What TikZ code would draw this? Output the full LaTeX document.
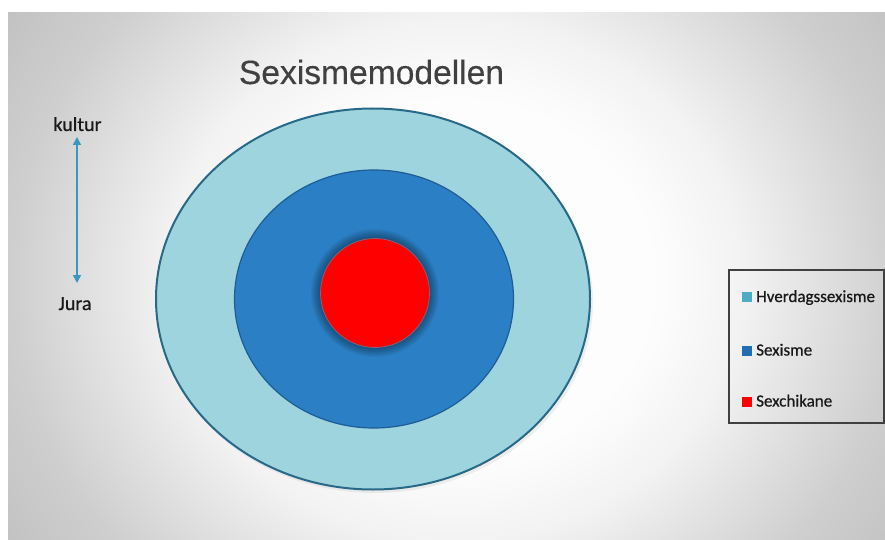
\documentclass[tikz,border=0pt]{standalone}
\usepackage{fontspec}
\setmainfont{Carlito}
\newfontfamily\labelfont[FakeBold=0.7]{Carlito}
\newfontfamily\titlefont[FakeBold=0.3]{Liberation Sans}
\usetikzlibrary{arrows.meta}
\definecolor{outerfill}{RGB}{158,212,222}
\definecolor{outerline}{RGB}{40,105,135}
\definecolor{midfill}{RGB}{43,127,196}
\definecolor{midline}{RGB}{30,92,150}
\definecolor{redfill}{RGB}{255,0,0}
\definecolor{redline}{RGB}{130,100,120}
\definecolor{arrowcol}{RGB}{58,151,190}
\definecolor{titlecol}{RGB}{64,64,64}
\definecolor{textcol}{RGB}{25,25,25}
\definecolor{legteal}{RGB}{75,172,198}
\definecolor{legblue}{RGB}{31,110,180}
\pgfdeclareradialshading{slidebg}{\pgfpoint{0bp}{0bp}}{%
color(0bp)=(white);
color(7.8bp)=(white!99!black);
color(10.9bp)=(white!95!black);
color(16.8bp)=(white!81!black);
color(20.3bp)=(white!76!black);
color(25bp)=(white!74!black);
color(50bp)=(white!74!black)}
\tikzset{
  sidelabel/.style={font=\labelfont\fontsize{20}{24}\selectfont, text=textcol, anchor=base, inner sep=0pt},
  legtext/.style={font=\labelfont\fontsize{17}{20}\selectfont, text=textcol, anchor=base west, inner sep=0pt},
  legsq/.style={minimum size=10pt, inner sep=0pt, draw=none},
}
\begin{document}
\begin{tikzpicture}[x=1pt,y=-1pt]
\useasboundingbox (0,0) rectangle (885,540);
\fill[white] (0,0) rectangle (885,540);
% slide background
\begin{scope}
\clip (8,13) rectangle (885,540);
\shade[shading=slidebg] (455,280) ellipse (660 and 600);
\end{scope}
% title
\node[font=\titlefont\fontsize{33.6}{40}\selectfont, text=titlecol, anchor=base, inner sep=0pt] (title) at (371.5,84) {Sexismemodellen};
% outer shadow
\fill[black, opacity=0.06] (375,302) ellipse (218 and 191);
% outer ellipse
\draw[fill=outerfill, draw=outerline, line width=2pt] (373,299) ellipse (217 and 190.5) node (outer) {};
% middle ellipse
\draw[fill=midfill, draw=midline, line width=1.2pt] (374,299) ellipse (139.5 and 129) node (middle) {};
% glow around red circle
\foreach \k in {1,...,10}{
  \fill[black, opacity=0.04] (375,293) circle (54+\k);
}
\draw[fill=redfill, draw=redline, line width=0.8pt] (375,293) circle (54.5) node (inner) {};
% side labels and arrow
\node[sidelabel] (kultur) at (77.5,131) {kultur};
\node[sidelabel] (jura) at (75,310) {Jura};
\coordinate (atop) at (77,137);
\coordinate (abot) at (77,283);
\draw[arrowcol, line width=1.5pt, {Triangle[length=8pt,width=8pt]}-{Triangle[length=8pt,width=8pt]}] (atop) -- (abot);
% legend
\draw[draw=titlecol, line width=1.4pt] (729,270) rectangle (884,423);
\node[legsq, fill=legteal, anchor=north west] (sq1) at (742,292) {};
\node[legtext] (l1) at (756,302) {Hverdagssexisme};
\node[legsq, fill=legblue, anchor=north west] (sq2) at (742,346) {};
\node[legtext] (l2) at (756,355.5) {Sexisme};
\node[legsq, fill=redfill, anchor=north west] (sq3) at (742,397) {};
\node[legtext] (l3) at (756,406.5) {Sexchikane};
\end{tikzpicture}
\end{document}
